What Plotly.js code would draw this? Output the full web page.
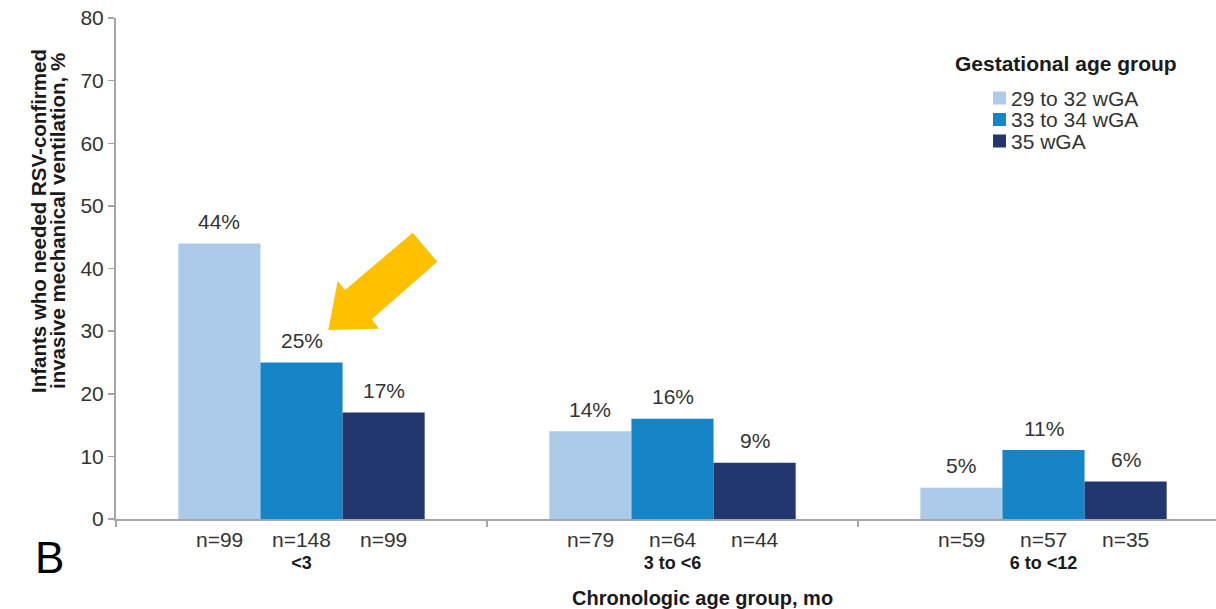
<!DOCTYPE html>
<html>
<head>
<meta charset="utf-8">
<script src="https://cdn.plot.ly/plotly-3.0.1.min.js"></script>
<style>
  html, body { margin: 0; padding: 0; background: #ffffff; }
  #chart { width: 1216px; height: 609px; }
</style>
</head>
<body>
<div id="chart"></div>
<script>
// Chronologic age groups (x categories)
const categories = ['<3', '3 to <6', '6 to <12'];

// Gestational age groups (series)
const seriesNames = ['29 to 32 wGA', '33 to 34 wGA', '35 wGA'];

// Percent of infants needing RSV-confirmed invasive mechanical ventilation
const pct29to32 = [44, 14, 5];
const pct33to34 = [25, 16, 11];
const pct35 = [17, 9, 6];

// Group sizes
const n29to32 = [99, 79, 59];
const n33to34 = [148, 64, 57];
const n35 = [99, 44, 35];

const seriesColors = ['#abcbe8', '#1585c7', '#23376f'];

const values = [pct29to32, pct33to34, pct35];
const counts = [n29to32, n33to34, n35];

const FONT = 'Liberation Sans, Arial, Helvetica, sans-serif';
const TEXT = '#333333';
const DARK = '#1a1a1a';
const AXIS = '#a6a6a6';

// Page geometry
const W = 1216, H = 609;
const M = { l: 116, r: 0, t: 18, b: 90 };
const plotW = W - M.l - M.r;
const plotH = H - M.t - M.b;
const pxX = x => (x - M.l) / plotW;
const pxY = y => (H - M.b - y) / plotH;

const bargap = 0.336;
const barW = (1 - bargap) / values.length;

const traces = values.map((vals, k) => ({
  type: 'bar',
  name: seriesNames[k],
  x: categories,
  y: vals,
  marker: { color: seriesColors[k], line: { width: 0 } },
  showlegend: false,
  hoverinfo: 'x+y+name'
}));

const annotations = [];

// Value labels above bars and group sizes below the axis
values.forEach((vals, k) => {
  vals.forEach((v, i) => {
    const xPos = i + (k - 1) * barW;
    annotations.push({
      x: xPos, y: v, xref: 'x', yref: 'y',
      text: v + '%', showarrow: false,
      yanchor: 'middle', yshift: 22,
      font: { family: FONT, size: 21, color: TEXT }
    });
    annotations.push({
      x: xPos, y: 0, xref: 'x', yref: 'y',
      text: 'n=' + counts[k][i], showarrow: false,
      yanchor: 'middle', yshift: -20,
      font: { family: FONT, size: 21, color: TEXT }
    });
  });
});

// Y-axis title, two lines
annotations.push({
  xref: 'paper', yref: 'paper', x: pxX(38), y: pxY(221),
  text: 'Infants who needed RSV-confirmed', textangle: -90, showarrow: false,
  xanchor: 'center', yanchor: 'middle',
  font: { family: FONT, size: 20.5, color: DARK, weight: 'bold' }
});
annotations.push({
  xref: 'paper', yref: 'paper', x: pxX(57), y: pxY(221),
  text: 'invasive mechanical ventilation, %', textangle: -90, showarrow: false,
  xanchor: 'center', yanchor: 'middle',
  font: { family: FONT, size: 20.5, color: DARK, weight: 'bold' }
});

// X-axis title
annotations.push({
  xref: 'paper', yref: 'paper', x: pxX(702), y: pxY(598),
  text: 'Chronologic age group, mo', showarrow: false,
  xanchor: 'center', yanchor: 'middle',
  font: { family: FONT, size: 20, color: DARK, weight: 'bold' }
});

// Panel letter
annotations.push({
  xref: 'paper', yref: 'paper', x: pxX(49), y: pxY(557),
  text: 'B', showarrow: false, xanchor: 'center', yanchor: 'middle',
  font: { family: FONT, size: 44, color: '#000000' }
});

// Legend: title, swatches and labels
const legendRows = [98, 119.5, 141];
annotations.push({
  xref: 'paper', yref: 'paper', x: pxX(1066), y: pxY(63),
  text: 'Gestational age group', showarrow: false,
  xanchor: 'center', yanchor: 'middle',
  font: { family: FONT, size: 21, color: DARK, weight: 'bold' }
});
const shapes = [];
seriesNames.forEach((name, k) => {
  const cy = legendRows[k];
  shapes.push({
    type: 'rect', xref: 'paper', yref: 'paper',
    x0: pxX(993), x1: pxX(1006), y0: pxY(cy + 6.5), y1: pxY(cy - 6.5),
    fillcolor: seriesColors[k], line: { width: 0 }
  });
  annotations.push({
    xref: 'paper', yref: 'paper', x: pxX(1009), y: pxY(cy),
    text: name, showarrow: false, xanchor: 'left', yanchor: 'middle',
    font: { family: FONT, size: 21, color: TEXT }
  });
});

// Highlight arrow pointing at the 25% value (pixel outline relative to the bar top)
shapes.push({
  type: 'path', xref: 'x', yref: 'y',
  xsizemode: 'pixel', ysizemode: 'pixel',
  xanchor: 0, yanchor: pct33to34[0],
  path: 'M26.8,32.4 L36.2,81.4 L43.5,72.4 L111.2,129.7 L135.8,100.7 L70.2,43.1 L77.5,33.7 Z',
  fillcolor: '#ffc000', line: { width: 0 }
});

const layout = {
  width: W, height: H,
  margin: M,
  paper_bgcolor: '#ffffff', plot_bgcolor: '#ffffff',
  barmode: 'group', bargap: bargap, bargroupgap: 0,
  showlegend: false,
  font: { family: FONT, color: TEXT },
  xaxis: {
    type: 'category',
    range: [-0.5, -0.5 + plotW / 371],
    showline: true, linecolor: AXIS, linewidth: 2,
    ticks: 'outside', tickson: 'boundaries', ticklen: 6, tickwidth: 1.5, tickcolor: AXIS,
    tickfont: { family: FONT, size: 18, color: DARK, weight: 'bold' },
    ticklabelstandoff: 26,
    showgrid: false, zeroline: false, fixedrange: true
  },
  yaxis: {
    range: [0, 80], dtick: 10,
    showline: true, linecolor: AXIS, linewidth: 2,
    ticks: 'outside', ticklen: 6, tickwidth: 1.5, tickcolor: AXIS,
    tickfont: { family: FONT, size: 21, color: TEXT },
    showgrid: false, zeroline: false, fixedrange: true
  },
  annotations: annotations,
  shapes: shapes
};

Plotly.newPlot('chart', traces, layout, { displayModeBar: false, staticPlot: true });
</script>
</body>
</html>
